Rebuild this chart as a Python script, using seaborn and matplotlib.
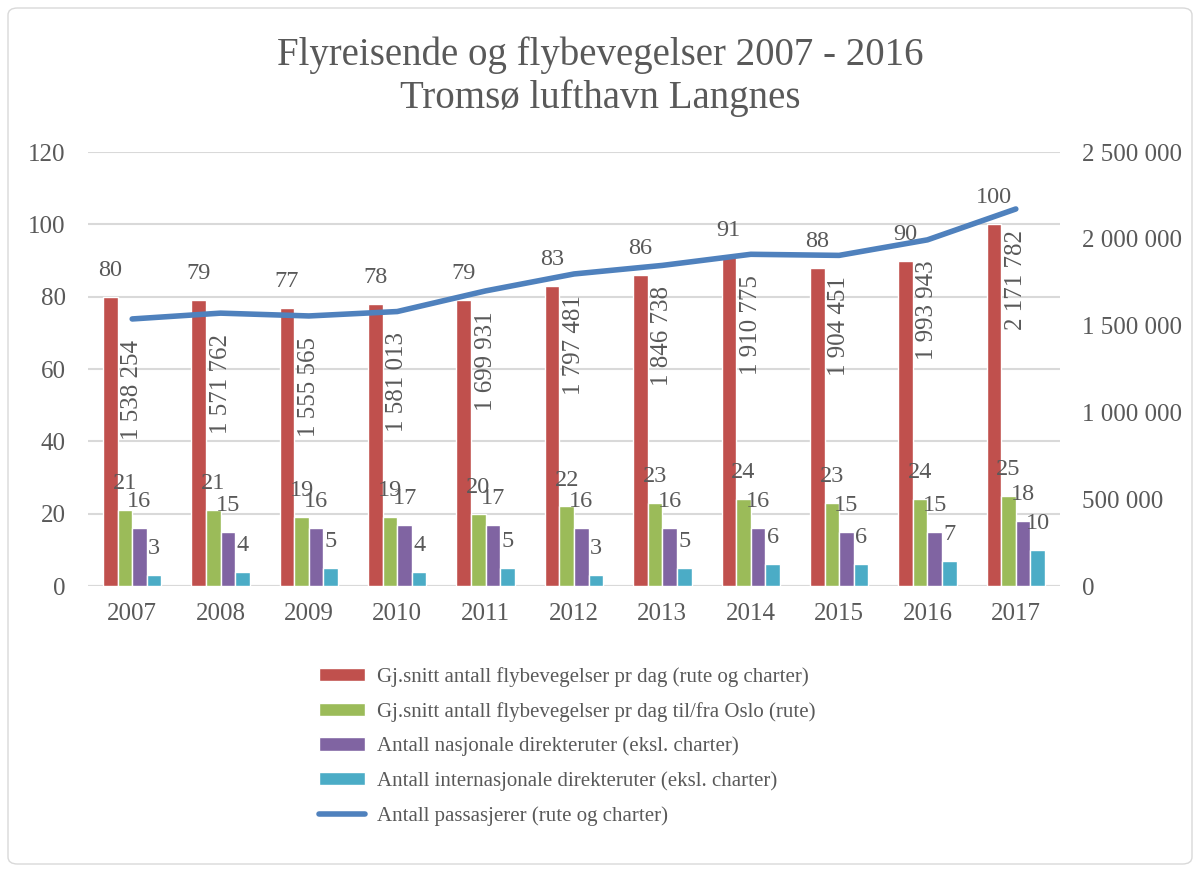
#Flyreisende og flybevegelser - Tromsø lufthavn Langnes

#import packages
import numpy as np
import pandas as pd
from matplotlib import pyplot as plt
from matplotlib.patches import Patch, FancyBboxPatch
from matplotlib.lines import Line2D
from matplotlib.ticker import FuncFormatter
import seaborn as sns

#Data
years = ['2007', '2008', '2009', '2010', '2011', '2012', '2013', '2014', '2015', '2016', '2017']
movements_total = [80, 79, 77, 78, 79, 83, 86, 91, 88, 90, 100]
movements_oslo = [21, 21, 19, 19, 20, 22, 23, 24, 23, 24, 25]
routes_national = [16, 15, 16, 17, 17, 16, 16, 16, 15, 15, 18]
routes_international = [3, 4, 5, 4, 5, 3, 5, 6, 6, 7, 10]
passengers = [1538254, 1571762, 1555565, 1581013, 1699931, 1797481,
              1846738, 1910775, 1904451, 1993943, 2171782]

series_names = ['Gj.snitt antall flybevegelser pr dag (rute og charter)',
                'Gj.snitt antall flybevegelser pr dag til/fra Oslo (rute)',
                'Antall nasjonale direkteruter (eksl. charter)',
                'Antall internasjonale direkteruter (eksl. charter)']
line_name = 'Antall passasjerer (rute og charter)'
bar_colors = ['#C0504D', '#9BBB59', '#8064A2', '#4BACC6']
line_color = '#4F81BD'
text_color = '#595959'

# long format table for seaborn
df = pd.DataFrame({
    'year': years * 4,
    'series': np.repeat(series_names, len(years)),
    'value': movements_total + movements_oslo + routes_national + routes_international,
})

sns.set_style("white")
plt.rcParams['font.family'] = ['Liberation Serif', 'DejaVu Serif']
plt.rcParams['text.color'] = text_color

fig = plt.figure(figsize=(12, 8.72), dpi=100)
ax = fig.add_axes([88/1200, 1-586/872, (1060-88)/1200, (586-152)/872])

sns.barplot(data=df, x='year', y='value', hue='series', palette=bar_colors,
            width=0.66, gap=0, saturation=1, ax=ax, legend=False)

ax.set_ylim(0, 120)
ax.set_yticks(range(0, 121, 20))
ax.set_xlabel('')
ax.set_ylabel('')
ax.yaxis.grid(True, color='#D9D9D9', linewidth=1.5)
ax.set_axisbelow(True)
for s in ax.spines.values():
    s.set_visible(False)
ax.axhline(0, color='#D9D9D9', linewidth=1.5, zorder=0)
ax.tick_params(axis='both', length=0, labelsize=18, labelcolor=text_color)
ax.tick_params(axis='y', pad=16)
ax.tick_params(axis='x', pad=12)

# value labels above bars
for cont in ax.containers:
    for bar in cont:
        h = bar.get_height()
        ax.annotate(f'{h:.0f}', (bar.get_x() + bar.get_width()/2, h),
                    xytext=(0, 19), textcoords='offset points',
                    ha='center', va='center', fontsize=17.5, color=text_color)

# passenger line on secondary axis
ax2 = ax.twinx()
sns.lineplot(x=np.arange(len(years)), y=passengers, color=line_color,
             linewidth=4, ax=ax2)
ax2.set_ylim(0, 2500000)
ax2.set_yticks(range(0, 2500001, 500000))
ax2.yaxis.set_major_formatter(FuncFormatter(lambda v, p: f'{int(v):,}'.replace(',', ' ')))
ax2.tick_params(axis='y', length=0, labelsize=18, labelcolor=text_color, pad=16)
for s in ax2.spines.values():
    s.set_visible(False)
ax.set_xlim(-0.5, len(years) - 0.5)

for i, p in enumerate(passengers):
    ax2.annotate(f'{p:,}'.replace(',', ' '), (i, p), xytext=(0, -15),
                 textcoords='offset points', rotation=90,
                 ha='center', va='top', fontsize=18, color=text_color)

# title
fig.text(0.5, 1-55/872, 'Flyreisende og flybevegelser 2007 - 2016',
         ha='center', va='center', fontsize=28, color=text_color)
fig.text(0.5, 1-98/872, 'Tromsø lufthavn Langnes',
         ha='center', va='center', fontsize=28, color=text_color)

# legend below the chart
handles = [Patch(facecolor=c) for c in bar_colors]
handles.append(Line2D([0], [0], color=line_color, linewidth=4))
fig.legend(handles, series_names + [line_name], loc='upper left',
           bbox_to_anchor=(300/1200, 1-648/872), frameon=False,
           fontsize=15, handlelength=2.2, handleheight=0.6,
           handletextpad=0.6, labelspacing=0.72, labelcolor=text_color)

# outer border
fig.patches.append(FancyBboxPatch((8/1200, 8/872), 1184/1200, 856/872,
                                  boxstyle='round,pad=0,rounding_size=0.008',
                                  transform=fig.transFigure, fill=False,
                                  edgecolor='#D9D9D9', linewidth=1))

plt.savefig('out.png', dpi=100)
